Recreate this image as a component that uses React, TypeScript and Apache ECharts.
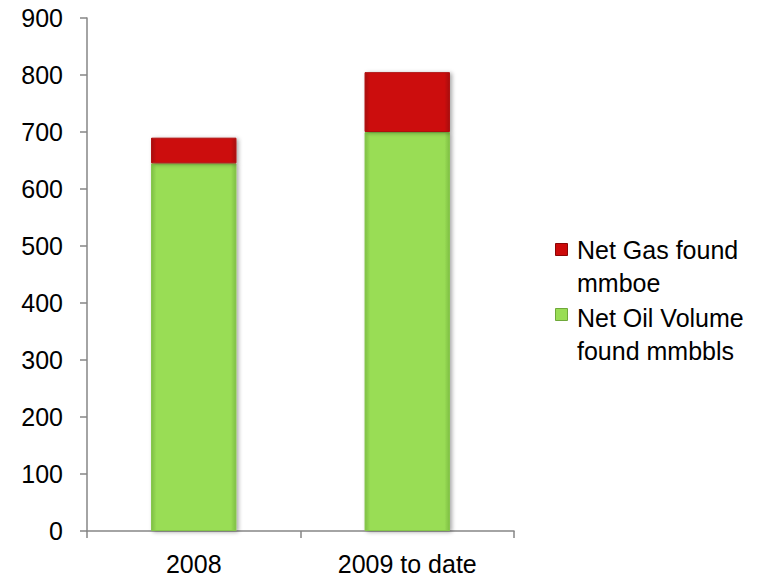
import React, { useEffect, useRef } from "react";
import * as echarts from "echarts";

const categories = ["2008", "2009 to date"];
const oilValues = [645, 700];
const gasValues = [45, 105];
const seriesNames = ["Net Oil Volume\nfound mmbbls", "Net Gas found\nmmboe"];
const yTicks = { min: 0, max: 900, interval: 100 };

const GREEN = "#99DD55";
const RED = "#CC0A0A";

function bevel(base: string, edge: string) {
  return {
    type: "linear",
    x: 0,
    y: 0,
    x2: 1,
    y2: 0,
    colorStops: [
      { offset: 0, color: edge },
      { offset: 0.06, color: base },
      { offset: 0.94, color: base },
      { offset: 1, color: edge },
    ],
  };
}

export default function App() {
  const ref = useRef<HTMLDivElement>(null);

  useEffect(() => {
    if (!ref.current) return;
    const chart = echarts.init(ref.current, null, { renderer: "svg" });
    const font = "Liberation Sans, Arial, sans-serif";
    chart.setOption({
      animation: false,
      grid: { left: 87, top: 18, right: 249, bottom: 52, containLabel: false },
      xAxis: {
        type: "category",
        data: categories,
        axisLine: { lineStyle: { color: "#868686", width: 1.5 } },
        axisTick: { show: true, length: 7, lineStyle: { color: "#868686", width: 1.5 } },
        axisLabel: { color: "#000", fontSize: 25, fontFamily: font, margin: 20 },
      },
      yAxis: {
        type: "value",
        min: yTicks.min,
        max: yTicks.max,
        interval: yTicks.interval,
        axisLine: { show: true, lineStyle: { color: "#868686", width: 1.5 } },
        axisTick: { show: true, length: 7, lineStyle: { color: "#868686", width: 1.5 } },
        splitLine: { show: false },
        axisLabel: { color: "#000", fontSize: 25, fontFamily: font, margin: 24 },
      },
      series: [
        {
          name: seriesNames[0],
          type: "bar",
          stack: "total",
          barWidth: "40%",
          data: oilValues,
          itemStyle: {
            color: bevel(GREEN, "#7FBF45"),
            borderColor: "#86C64C",
            borderWidth: 1,
            shadowColor: "rgba(0,0,0,0.35)",
            shadowBlur: 4,
            shadowOffsetX: 2,
            shadowOffsetY: 1,
          },
        },
        {
          name: seriesNames[1],
          type: "bar",
          stack: "total",
          barWidth: "40%",
          data: gasValues,
          itemStyle: {
            color: bevel(RED, "#A80808"),
            borderColor: "#B00909",
            borderWidth: 1,
            shadowColor: "rgba(0,0,0,0.35)",
            shadowBlur: 4,
            shadowOffsetX: 2,
            shadowOffsetY: 1,
          },
        },
      ],
      graphic: [
        { type: "rect", left: 555, top: 243, shape: { width: 12, height: 12 }, style: { fill: RED, stroke: "#8A0606", lineWidth: 1 } },
        { type: "text", left: 577, top: 233, style: { text: seriesNames[1], font: `25px ${font}`, fill: "#000", lineHeight: 33 } },
        { type: "rect", left: 555, top: 308, shape: { width: 12, height: 12 }, style: { fill: GREEN, stroke: "#6FA83A", lineWidth: 1 } },
        { type: "text", left: 577, top: 301, style: { text: seriesNames[0], font: `25px ${font}`, fill: "#000", lineHeight: 33 } },
      ],
    });
    return () => chart.dispose();
  }, []);

  return <div ref={ref} style={{ width: 763, height: 583, position: "absolute", left: 0, top: 0 }} />;
}
